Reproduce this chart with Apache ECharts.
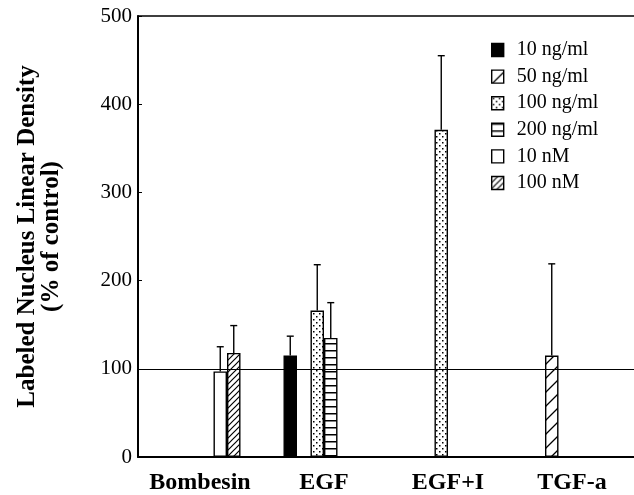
<!DOCTYPE html>
<html>
<head>
<meta charset="utf-8">
<script src="https://cdn.jsdelivr.net/npm/echarts@6/dist/echarts.min.js"></script>
<style>
  html, body { margin: 0; background: #fff }
  #chart { width: 634px; height: 495px }
</style>
</head>
<body>
<div id="chart"></div>
<script>
const categories = ['Bombesin', 'EGF', 'EGF+I', 'TGF-a']
const doses = ['10 ng/ml', '50 ng/ml', '100 ng/ml', '200 ng/ml', '10 nM', '100 nM']

// mean (% of control), '-' where the dose was not tested
const ng10 = ['-', 115, '-', '-']
const ng50 = ['-', '-', '-', 115]
const ng100 = ['-', 166, 371, '-']
const ng200 = ['-', 135, '-', '-']
const nm10 = [97, '-', '-', '-']
const nm100 = [118, '-', '-', '-']

// upper error (same units)
const ng10Err = ['-', 22, '-', '-']
const ng50Err = ['-', '-', '-', 104]
const ng100Err = ['-', 52, 84, '-']
const ng200Err = ['-', 40, '-', '-']
const nm10Err = [28, '-', '-', '-']
const nm100Err = [31, '-', '-', '-']

const yTicks = [0, 100, 200, 300, 400, 500]
const control = 100

const means = [ng10, ng50, ng100, ng200, nm10, nm100]
const errs = [ng10Err, ng50Err, ng100Err, ng200Err, nm10Err, nm100Err]

const BAR_W = 13.5
const serif = '"Liberation Serif", "DejaVu Serif", serif'

function tile (w, h, draw) {
  const c = document.createElement('canvas')
  c.width = w
  c.height = h
  const g = c.getContext('2d')
  g.fillStyle = '#fff'
  g.fillRect(0, 0, w, h)
  g.fillStyle = '#000'
  g.strokeStyle = '#000'
  draw(g)
  return { image: c, repeat: 'repeat' }
}

function hatch (s, lw) {
  return tile(s, s, g => {
    g.lineWidth = lw
    g.beginPath()
    g.moveTo(-1, s + 1); g.lineTo(s + 1, -1)
    g.moveTo(-1, 1); g.lineTo(1, -1)
    g.moveTo(s - 1, s + 1); g.lineTo(s + 1, s - 1)
    g.stroke()
  })
}

const fills = [
  '#000',
  hatch(14, 1.3),
  tile(6, 6, g => { g.fillRect(1, 1, 1.5, 1.5); g.fillRect(4, 4, 1.5, 1.5) }),
  tile(4, 7, g => { g.fillRect(0, 0, 4, 1.5) }),
  '#fff',
  hatch(6, 1.2)
]

const barSeries = doses.map((name, i) => ({
  name,
  type: 'bar',
  data: means[i],
  barWidth: BAR_W,
  barGap: '0%',
  z: 3,
  itemStyle: { color: fills[i], borderColor: '#000', borderWidth: 1.4 }
}))

// error bar rows: [category, mean, top, slot]
const errRows = []
means.forEach((arr, slot) => {
  arr.forEach((v, c) => {
    if (v !== '-') errRows.push([c, v, v + errs[slot][c], slot])
  })
})

const chart = echarts.init(document.getElementById('chart'), null, { renderer: 'canvas' })

chart.setOption({
  animation: false,
  backgroundColor: '#fff',
  grid: { left: 138, right: 0, top: 16, bottom: 38 },
  legend: {
    orient: 'vertical',
    left: 486,
    top: 35,
    data: doses,
    icon: 'rect',
    itemWidth: 12,
    itemHeight: 13,
    itemGap: 6.6,
    selectedMode: false,
    itemStyle: { borderColor: '#000', borderWidth: 1.4 },
    textStyle: { fontFamily: serif, fontSize: 20, color: '#000', lineHeight: 20, padding: [0, 0, 0, 8] }
  },
  xAxis: [{
    type: 'category',
    data: categories,
    axisLine: { lineStyle: { color: '#000', width: 2 } },
    axisTick: { show: false },
    axisLabel: { interval: 0, color: '#000', fontFamily: serif, fontWeight: 'bold', fontSize: 24, margin: 14 }
  }, {
    type: 'category',
    data: categories,
    position: 'top',
    axisLine: { lineStyle: { color: '#000', width: 1.5 } },
    axisTick: { show: false },
    axisLabel: { show: false }
  }],
  yAxis: {
    type: 'value',
    min: yTicks[0],
    max: yTicks[yTicks.length - 1],
    interval: 100,
    name: 'Labeled Nucleus Linear Density\n(% of control)',
    nameLocation: 'middle',
    nameGap: 74,
    nameTextStyle: { color: '#000', fontFamily: serif, fontWeight: 'bold', fontSize: 25, lineHeight: 24 },
    axisLine: { show: true, lineStyle: { color: '#000', width: 2 } },
    axisTick: { show: true, inside: true, length: 4, lineStyle: { color: '#000' } },
    splitLine: { show: false },
    axisLabel: { color: '#000', fontFamily: serif, fontSize: 21, margin: 6 }
  },
  series: [
    ...barSeries,
    {
      type: 'custom',
      z: 1,
      data: errRows,
      encode: { x: 0, y: [1, 2] },
      renderItem (params, api) {
        const cat = api.value(0)
        const slot = api.value(3)
        const base = api.coord([cat, api.value(1)])
        const tip = api.coord([cat, api.value(2)])
        const x = base[0] + (slot - (doses.length - 1) / 2) * BAR_W
        const style = { stroke: '#000', lineWidth: 1.4 }
        return {
          type: 'group',
          children: [
            { type: 'line', shape: { x1: x, y1: base[1], x2: x, y2: tip[1] }, style },
            { type: 'line', shape: { x1: x - 3.5, y1: tip[1], x2: x + 3.5, y2: tip[1] }, style }
          ]
        }
      },
      markLine: {
        silent: true,
        symbol: 'none',
        label: { show: false },
        lineStyle: { color: '#000', width: 1, type: 'solid' },
        data: [{ yAxis: control }]
      }
    }
  ]
})
</script>
</body>
</html>
